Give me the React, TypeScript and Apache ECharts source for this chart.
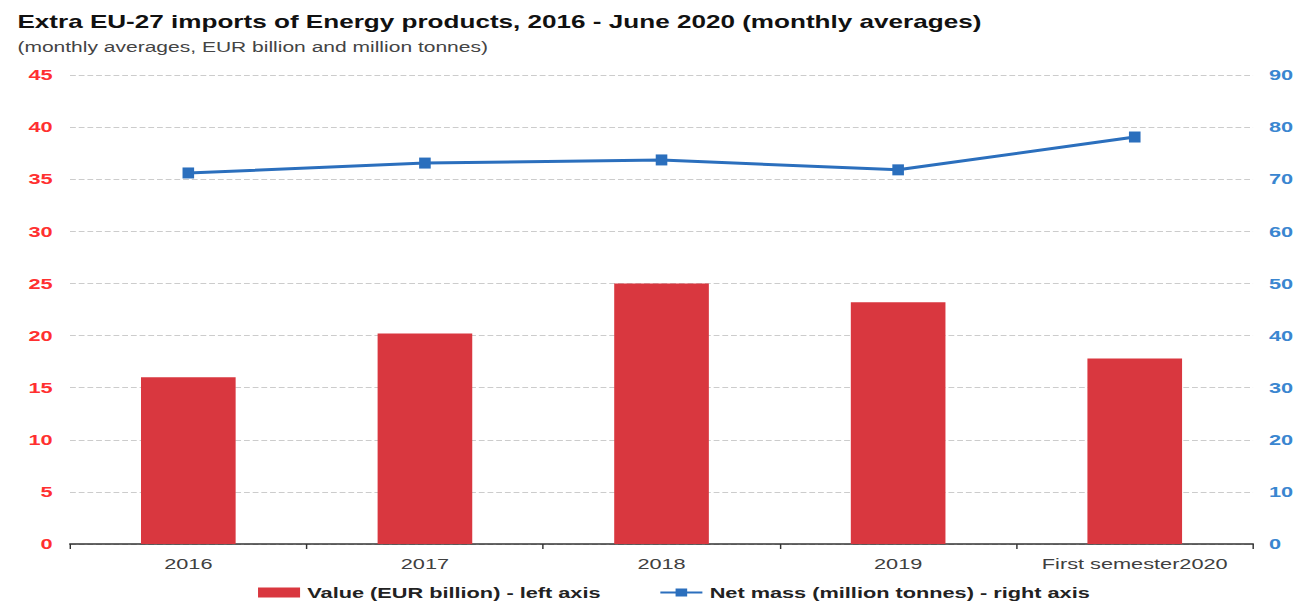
import React, { useEffect, useRef } from "react";
import * as echarts from "echarts";

const categories = ["2016", "2017", "2018", "2019", "First semester2020"];
const valueEUR = [16.0, 20.2, 25.0, 23.2, 17.8];
const netMass = [71.2, 73.1, 73.7, 71.8, 78.1];
const leftTicks = [0, 5, 10, 15, 20, 25, 30, 35, 40, 45];
const rightTicks = [0, 10, 20, 30, 40, 50, 60, 70, 80, 90];

const W = 903;
const SX = 1309 / W;

export default function App() {
  const ref = useRef<HTMLDivElement>(null);
  useEffect(() => {
    const chart = echarts.init(ref.current!, null, { renderer: "svg" });
    const font = "'Liberation Sans', Arial, sans-serif";
    chart.setOption({
      animation: false,
      textStyle: { fontFamily: font },
      title: [
        {
          text: "Extra EU-27 imports of Energy products, 2016 - June 2020 (monthly averages)",
          left: 7,
          top: 8,
          textStyle: { fontSize: 18, fontWeight: "bold", color: "#111", fontFamily: font },
        },
        {
          text: "(monthly averages, EUR billion and million tonnes)",
          left: 7,
          top: 35,
          textStyle: { fontSize: 14.5, fontWeight: "normal", color: "#444", fontFamily: font },
        },
      ],
      legend: {
        top: 585,
        left: 178,
        padding: 0,
        itemGap: 40,
        itemWidth: 29,
        itemHeight: 10,
        textStyle: { fontSize: 15, fontWeight: "bold", color: "#222", fontFamily: font },
        data: [
          { name: "Value (EUR billion) - left axis", icon: "rect" },
          { name: "Net mass (million tonnes) - right axis" },
        ],
      },
      grid: { left: 48.3, right: 38.6, top: 75, bottom: 59, containLabel: false },
      xAxis: {
        type: "category",
        data: categories,
        axisLine: { lineStyle: { color: "#333", width: 1.5 } },
        axisTick: { show: true, interval: 0, alignWithLabel: false, length: 5, lineStyle: { color: "#333" } },
        axisLabel: { interval: 0, fontSize: 15, color: "#404040", margin: 12, fontFamily: font },
      },
      yAxis: [
        {
          type: "value",
          min: leftTicks[0],
          max: leftTicks[leftTicks.length - 1],
          interval: 5,
          position: "left",
          axisLine: { show: false },
          axisTick: { show: false },
          axisLabel: { fontSize: 15, fontWeight: "bold", color: "#ff3030", margin: 12, fontFamily: font },
          splitLine: { lineStyle: { type: "dashed", color: "#cccccc" } },
        },
        {
          type: "value",
          min: rightTicks[0],
          max: rightTicks[rightTicks.length - 1],
          interval: 10,
          position: "right",
          axisLine: { show: false },
          axisTick: { show: false },
          axisLabel: { fontSize: 15, fontWeight: "bold", color: "#3a86d0", margin: 11, fontFamily: font },
          splitLine: { show: false },
        },
      ],
      series: [
        {
          name: "Value (EUR billion) - left axis",
          type: "bar",
          data: valueEUR,
          barWidth: "40%",
          yAxisIndex: 0,
          itemStyle: { color: "#d9373f" },
        },
        {
          name: "Net mass (million tonnes) - right axis",
          type: "line",
          data: netMass,
          yAxisIndex: 1,
          symbol: "rect",
          symbolSize: [8, 11],
          lineStyle: { color: "#2b6fbd", width: 3 },
          itemStyle: { color: "#2b6fbd" },
        },
      ],
    });
    return () => chart.dispose();
  }, []);
  return (
    <div
      ref={ref}
      style={{
        width: W,
        height: 603,
        position: "absolute",
        left: 0,
        top: 0,
        transform: `scaleX(${SX})`,
        transformOrigin: "0 0",
      }}
    />
  );
}
